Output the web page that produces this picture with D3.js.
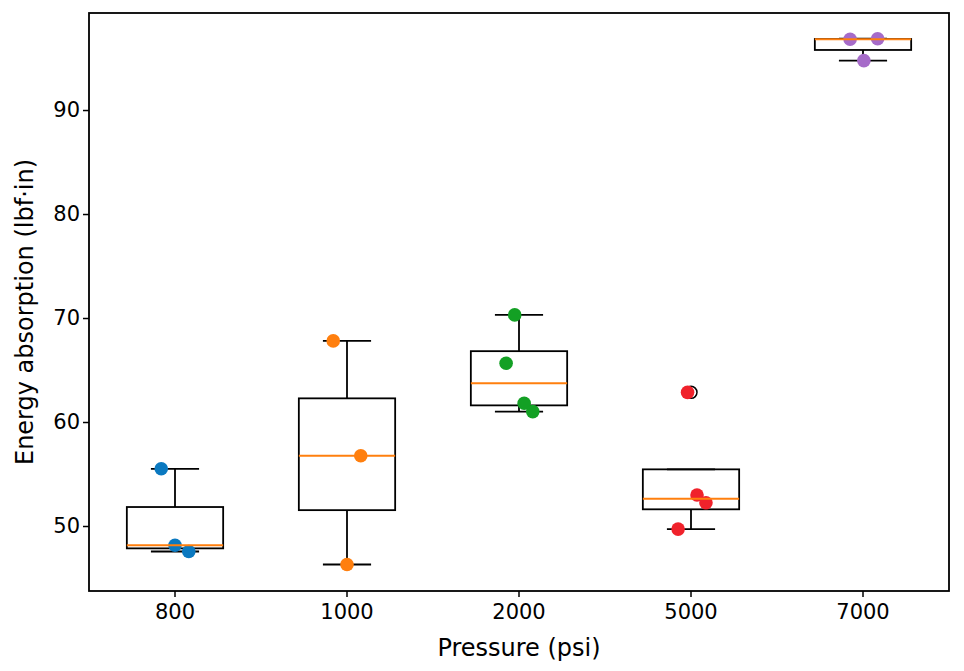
<!DOCTYPE html>
<html>
<head>
<meta charset="utf-8">
<script src="https://cdn.jsdelivr.net/npm/d3@7"></script>
<style>
  body { margin: 0; background: #ffffff; }
</style>
</head>
<body>
<svg class="vis" width="964" height="671"></svg>
<script>
// data
var categories = ["800", "1000", "2000", "5000", "7000"];
var yTicks = [50, 60, 70, 80, 90];

var values800 = [55.5, 48.15, 47.55];
var values1000 = [67.8, 56.75, 46.3];
var values2000 = [70.3, 65.65, 61.8, 61.0];
var values5000 = [62.85, 52.98, 52.24, 49.7];
var values7000 = [96.8, 96.86, 94.75];

// horizontal offset of each dot from its box centre (category units)
var jitter800 = [-0.08, 0, 0.08];
var jitter1000 = [-0.08, 0.08, 0];
var jitter2000 = [-0.025, -0.075, 0.03, 0.08];
var jitter5000 = [-0.02, 0.035, 0.087, -0.075];
var jitter7000 = [-0.075, 0.085, 0.005];

var pointColors = ["#0b79c0", "#ff7f0e", "#13a024", "#f0222b", "#a66bc9"];

var groups = [
    { name: "800", values: values800, jitter: jitter800 },
    { name: "1000", values: values1000, jitter: jitter1000 },
    { name: "2000", values: values2000, jitter: jitter2000 },
    { name: "5000", values: values5000, jitter: jitter5000 },
    { name: "7000", values: values7000, jitter: jitter7000 }
];

var margin = { top: 13, right: 15, bottom: 80, left: 89 },
    width = 964 - margin.left - margin.right,
    height = 671 - margin.top - margin.bottom;

var svg = d3.select(".vis");
var g = svg.append("g").attr("transform", `translate(${margin.left}, ${margin.top})`);

var x = d3.scaleBand()
    .domain(categories)
    .range([0, width])
    .padding(0);
var step = x.bandwidth();
var cx = d => x(d) + step / 2;

var y = d3.scaleLinear()
    .domain([43.75, 99.33])
    .range([height, 0]);

// matplotlib style box statistics
function quantile(sorted, p) {
    var pos = (sorted.length - 1) * p, lo = Math.floor(pos), hi = Math.ceil(pos);
    return sorted[lo] + (sorted[hi] - sorted[lo]) * (pos - lo);
}
function boxStats(vals) {
    var s = vals.slice().sort(d3.ascending);
    var q1 = quantile(s, 0.25), med = quantile(s, 0.5), q3 = quantile(s, 0.75);
    var iqr = q3 - q1;
    var inHi = s.filter(v => v <= q3 + 1.5 * iqr), inLo = s.filter(v => v >= q1 - 1.5 * iqr);
    var whishi = inHi.length && d3.max(inHi) > q3 ? d3.max(inHi) : q3;
    var whislo = inLo.length && d3.min(inLo) < q1 ? d3.min(inLo) : q1;
    var fliers = s.filter(v => v > whishi || v < whislo);
    return { q1: q1, med: med, q3: q3, whishi: whishi, whislo: whislo, fliers: fliers };
}
groups.forEach(d => d.stats = boxStats(d.values));

var boxW = step * 0.56, capW = step * 0.28;

// axes
var yAxis = g.append("g")
    .call(d3.axisLeft(y).tickValues(yTicks).tickSize(6).tickPadding(3).tickFormat(d3.format("d")));
var xAxis = g.append("g")
    .attr("transform", `translate(0, ${height})`)
    .call(d3.axisBottom(x).tickSize(6).tickPadding(7));
[xAxis, yAxis].forEach(function (a) {
    a.select(".domain").remove();
    a.selectAll("line").attr("stroke", "#000").attr("stroke-width", 1.5);
    a.selectAll("text")
        .attr("font-family", "DejaVu Sans, sans-serif")
        .attr("font-size", "21px")
        .attr("fill", "#000");
});

// whiskers and caps
var boxes = g.selectAll(".box")
    .data(groups)
    .join("g")
    .attr("class", "box");

boxes.append("line")
    .attr("x1", d => cx(d.name)).attr("x2", d => cx(d.name))
    .attr("y1", d => y(d.stats.q3)).attr("y2", d => y(d.stats.whishi));
boxes.append("line")
    .attr("x1", d => cx(d.name)).attr("x2", d => cx(d.name))
    .attr("y1", d => y(d.stats.q1)).attr("y2", d => y(d.stats.whislo));
boxes.append("line")
    .attr("x1", d => cx(d.name) - capW / 2).attr("x2", d => cx(d.name) + capW / 2)
    .attr("y1", d => y(d.stats.whishi)).attr("y2", d => y(d.stats.whishi));
boxes.append("line")
    .attr("x1", d => cx(d.name) - capW / 2).attr("x2", d => cx(d.name) + capW / 2)
    .attr("y1", d => y(d.stats.whislo)).attr("y2", d => y(d.stats.whislo));
boxes.append("rect")
    .attr("x", d => cx(d.name) - boxW / 2)
    .attr("y", d => y(d.stats.q3))
    .attr("width", boxW)
    .attr("height", d => y(d.stats.q1) - y(d.stats.q3))
    .attr("fill", "none");
boxes.selectAll("line, rect")
    .attr("stroke", "#000")
    .attr("stroke-width", 1.8);

// outliers (open circles)
boxes.selectAll(".flier")
    .data(d => d.stats.fliers.map(v => ({ name: d.name, v: v })))
    .join("circle")
    .attr("class", "flier")
    .attr("cx", d => cx(d.name))
    .attr("cy", d => y(d.v))
    .attr("r", 6)
    .attr("fill", "none")
    .attr("stroke", "#000")
    .attr("stroke-width", 1.5);

// dots
groups.forEach(function (grp, gi) {
    g.append("g")
        .selectAll("circle")
        .data(grp.values)
        .join("circle")
        .attr("cx", (d, i) => cx(grp.name) + grp.jitter[i] * step)
        .attr("cy", d => y(d))
        .attr("r", 6.8)
        .attr("fill", pointColors[gi]);
});

// medians on top
g.selectAll(".median")
    .data(groups)
    .join("line")
    .attr("class", "median")
    .attr("x1", d => cx(d.name) - boxW / 2).attr("x2", d => cx(d.name) + boxW / 2)
    .attr("y1", d => y(d.stats.med)).attr("y2", d => y(d.stats.med))
    .attr("stroke", "#ff7f0e")
    .attr("stroke-width", 2);

// frame
g.append("rect")
    .attr("width", width)
    .attr("height", height)
    .attr("fill", "none")
    .attr("stroke", "#000")
    .attr("stroke-width", 1.8);

// axis titles
svg.append("text")
    .attr("x", margin.left + width / 2)
    .attr("y", 656)
    .attr("text-anchor", "middle")
    .attr("font-family", "DejaVu Sans, sans-serif")
    .attr("font-size", "24px")
    .text("Pressure (psi)");

svg.append("text")
    .attr("transform", `translate(33, ${margin.top + height / 2 + 10}) rotate(-90)`)
    .attr("text-anchor", "middle")
    .attr("font-family", "DejaVu Sans, sans-serif")
    .attr("font-size", "24px")
    .text("Energy absorption (lbf·in)");
</script>
</body>
</html>
